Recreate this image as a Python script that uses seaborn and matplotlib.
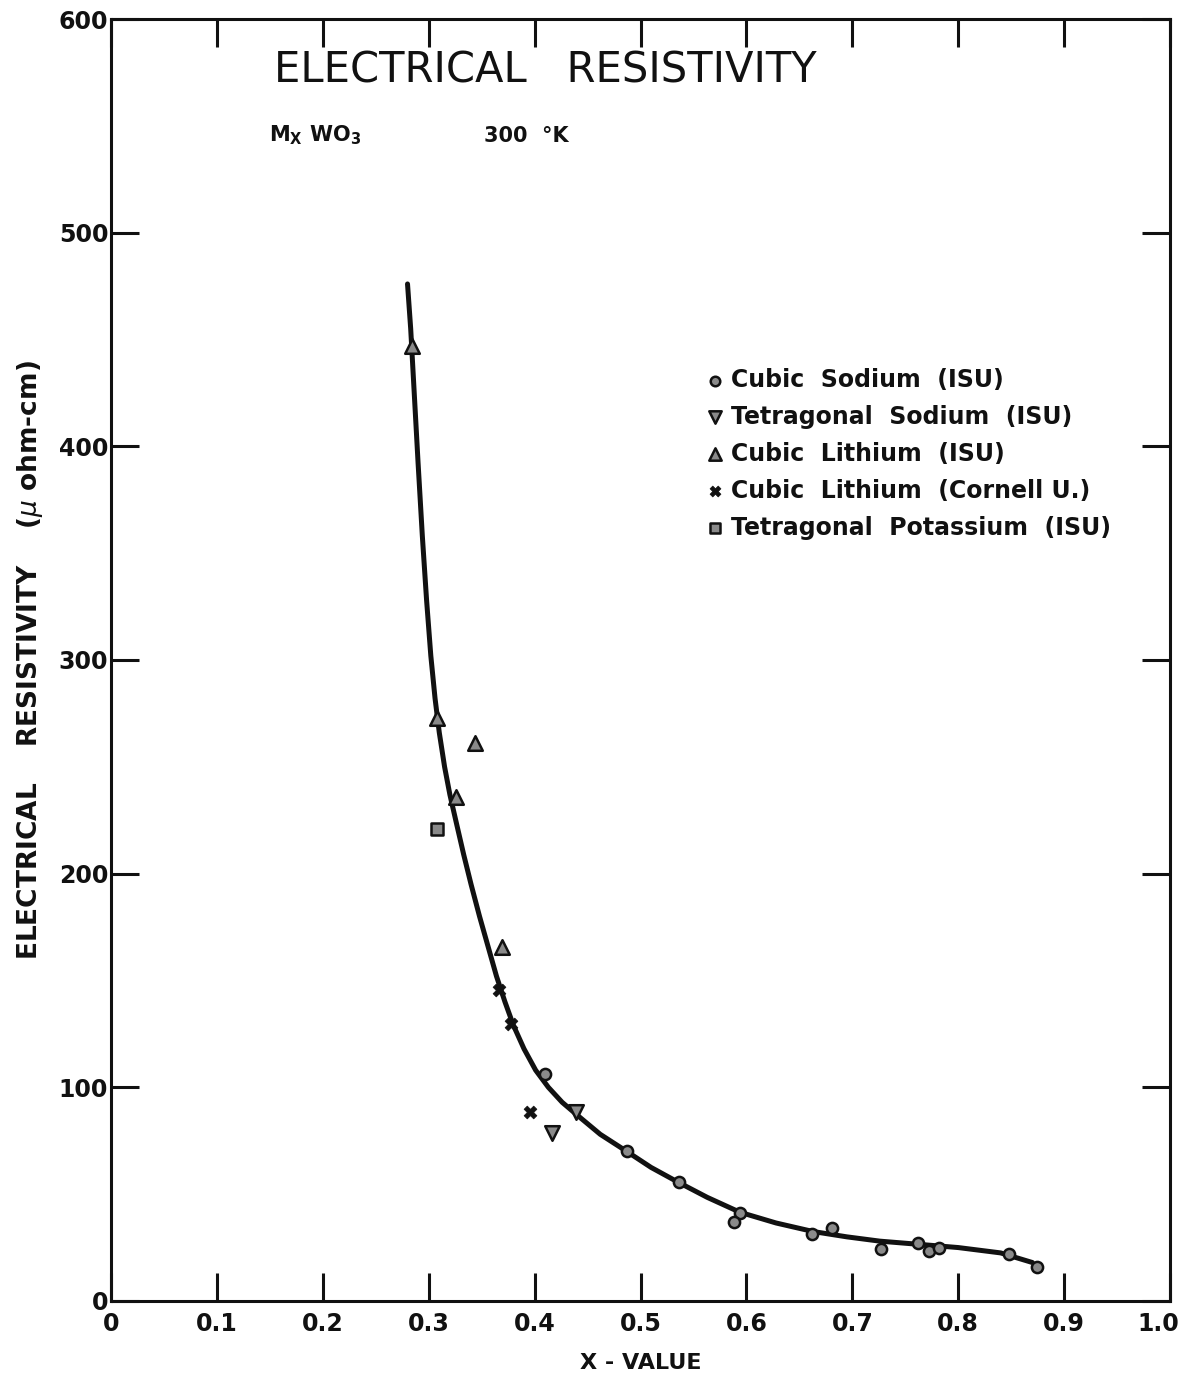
import matplotlib
matplotlib.use("Agg")
import matplotlib.pyplot as plt
import matplotlib.transforms as mtransforms
import seaborn as sns
import pandas as pd

# ---- data ----
curve_x = [0.280, 0.283, 0.286, 0.290, 0.294, 0.298, 0.302, 0.306, 0.310, 0.315, 0.320,
           0.326, 0.333, 0.340, 0.348, 0.356, 0.364, 0.372, 0.380, 0.390, 0.401, 0.413,
           0.426, 0.439, 0.462, 0.487, 0.510, 0.534, 0.563, 0.594, 0.628, 0.663, 0.695,
           0.726, 0.763, 0.800, 0.840, 0.870]
curve_y = [476, 455, 428, 392, 358, 328, 302, 282, 266, 250, 237,
           224, 209, 195, 180, 166, 152, 140, 129, 118, 108, 100,
           93, 87.5, 78, 70, 62.5, 56, 48.5, 41.5, 36.5, 32.5, 30,
           28, 26.5, 25, 22.5, 18]

sodium_cubic_x = [0.410, 0.487, 0.536, 0.594, 0.588, 0.6615, 0.681, 0.727, 0.762, 0.772, 0.782, 0.848, 0.874]
sodium_cubic_y = [106, 70, 55.5, 41, 37, 31.4, 34.2, 24.3, 27.3, 23.2, 24.7, 22, 16]

sodium_tetra_x = [0.4167, 0.439]
sodium_tetra_y = [78.5, 88.6]

lithium_cubic_x = [0.284, 0.308, 0.344, 0.326, 0.3695]
lithium_cubic_y = [447, 273, 261, 236, 165.5]

lithium_cornell_x = [0.366, 0.378, 0.396]
lithium_cornell_y = [145.5, 129.5, 88.6]

potassium_tetra_x = [0.3075]
potassium_tetra_y = [221]

series_labels = ["Cubic  Sodium  (ISU)", "Tetragonal  Sodium  (ISU)", "Cubic  Lithium  (ISU)",
                 "Cubic  Lithium  (Cornell U.)", "Tetragonal  Potassium  (ISU)"]

x_ticks = [0, 0.1, 0.2, 0.3, 0.4, 0.5, 0.6, 0.7, 0.8, 0.9, 1.0]
x_tick_labels = ["0", "0.1", "0.2", "0.3", "0.4", "0.5", "0.6", "0.7", "0.8", "0.9", "1.0"]
y_ticks = [0, 100, 200, 300, 400, 500, 600]
y_tick_labels = ["0", "100", "200", "300", "400", "500", "600"]

# ---- style ----
sns.set_style("ticks")
plt.rcParams['font.family'] = ['DejaVu Sans']

fig = plt.figure(figsize=(11.87, 13.78), dpi=100)
ax = fig.add_axes([0.0935, 0.0559, 0.8922, 0.9303])

curve_df = pd.DataFrame({"x": curve_x, "y": curve_y})
sns.lineplot(data=curve_df, x="x", y="y", sort=False, estimator=None, ax=ax,
             color="#111111", linewidth=3.6, zorder=2)

mk = dict(edgecolor="#111111", linewidth=1.8, zorder=3)
face = "#8a8a8a"
sns.scatterplot(x=sodium_cubic_x, y=sodium_cubic_y, marker="o", s=65, color=face,
                label=series_labels[0], ax=ax, **mk)
sns.scatterplot(x=sodium_tetra_x, y=sodium_tetra_y, marker="v", s=110, color=face,
                label=series_labels[1], ax=ax, **mk)
sns.scatterplot(x=lithium_cubic_x, y=lithium_cubic_y, marker="^", s=110, color=face,
                label=series_labels[2], ax=ax, **mk)
sns.scatterplot(x=lithium_cornell_x, y=lithium_cornell_y, marker="X", s=85, color="#111111",
                label=series_labels[3], ax=ax, edgecolor="#111111", linewidth=0.5, zorder=3)
sns.scatterplot(x=potassium_tetra_x, y=potassium_tetra_y, marker="s", s=85, color=face,
                label=series_labels[4], ax=ax, **mk)

ax.set_xlim(0, 1.0)
ax.set_ylim(0, 600)
ax.set_xticks(x_ticks)
ax.set_xticklabels(x_tick_labels, fontsize=17, fontweight="bold")
ax.set_yticks(y_ticks)
ax.set_yticklabels(y_tick_labels, fontsize=17, fontweight="bold")
ax.tick_params(direction="in", length=20, width=2.2, top=True, right=True,
               color="#111111", labelcolor="#111111", pad=8)
ax.tick_params(axis="y", pad=2)
for sp in ax.spines.values():
    sp.set_linewidth(2.2)
    sp.set_color("#111111")

# nudge the last x tick label so it stays inside the figure
last = ax.get_xticklabels()[-1]
last.set_transform(last.get_transform() +
                   mtransforms.ScaledTranslation(-0.12, 0, fig.dpi_scale_trans))

ax.set_xlabel("X - VALUE", fontsize=16, fontweight="bold", color="#111111", labelpad=12)
ax.set_ylabel("ELECTRICAL    RESISTIVITY    ($\\mu$ ohm-cm)", fontsize=19, fontweight="bold",
              color="#111111", labelpad=10)

ax.text(0.154, 0.96, "ELECTRICAL   RESISTIVITY", transform=ax.transAxes, fontsize=30,
        color="#111111", va="center", ha="left")
ax.text(0.149, 0.909, "M$_\\mathbf{X}$ WO$_\\mathbf{3}$", transform=ax.transAxes, fontsize=15,
        fontweight="bold", color="#111111", va="center", ha="left")
ax.text(0.352, 0.909, "300  °K", transform=ax.transAxes, fontsize=15,
        fontweight="bold", color="#111111", va="center", ha="left")

leg = ax.legend(loc="upper left", bbox_to_anchor=(0.561, 0.728), frameon=False,
                prop={"size": 17, "weight": "bold"}, handletextpad=0.3,
                labelspacing=0.55, markerscale=0.85, borderaxespad=0, borderpad=0,
                handlelength=0.8)
for t in leg.get_texts():
    t.set_color("#111111")

fig.savefig("out.png", dpi=100, facecolor="white")
